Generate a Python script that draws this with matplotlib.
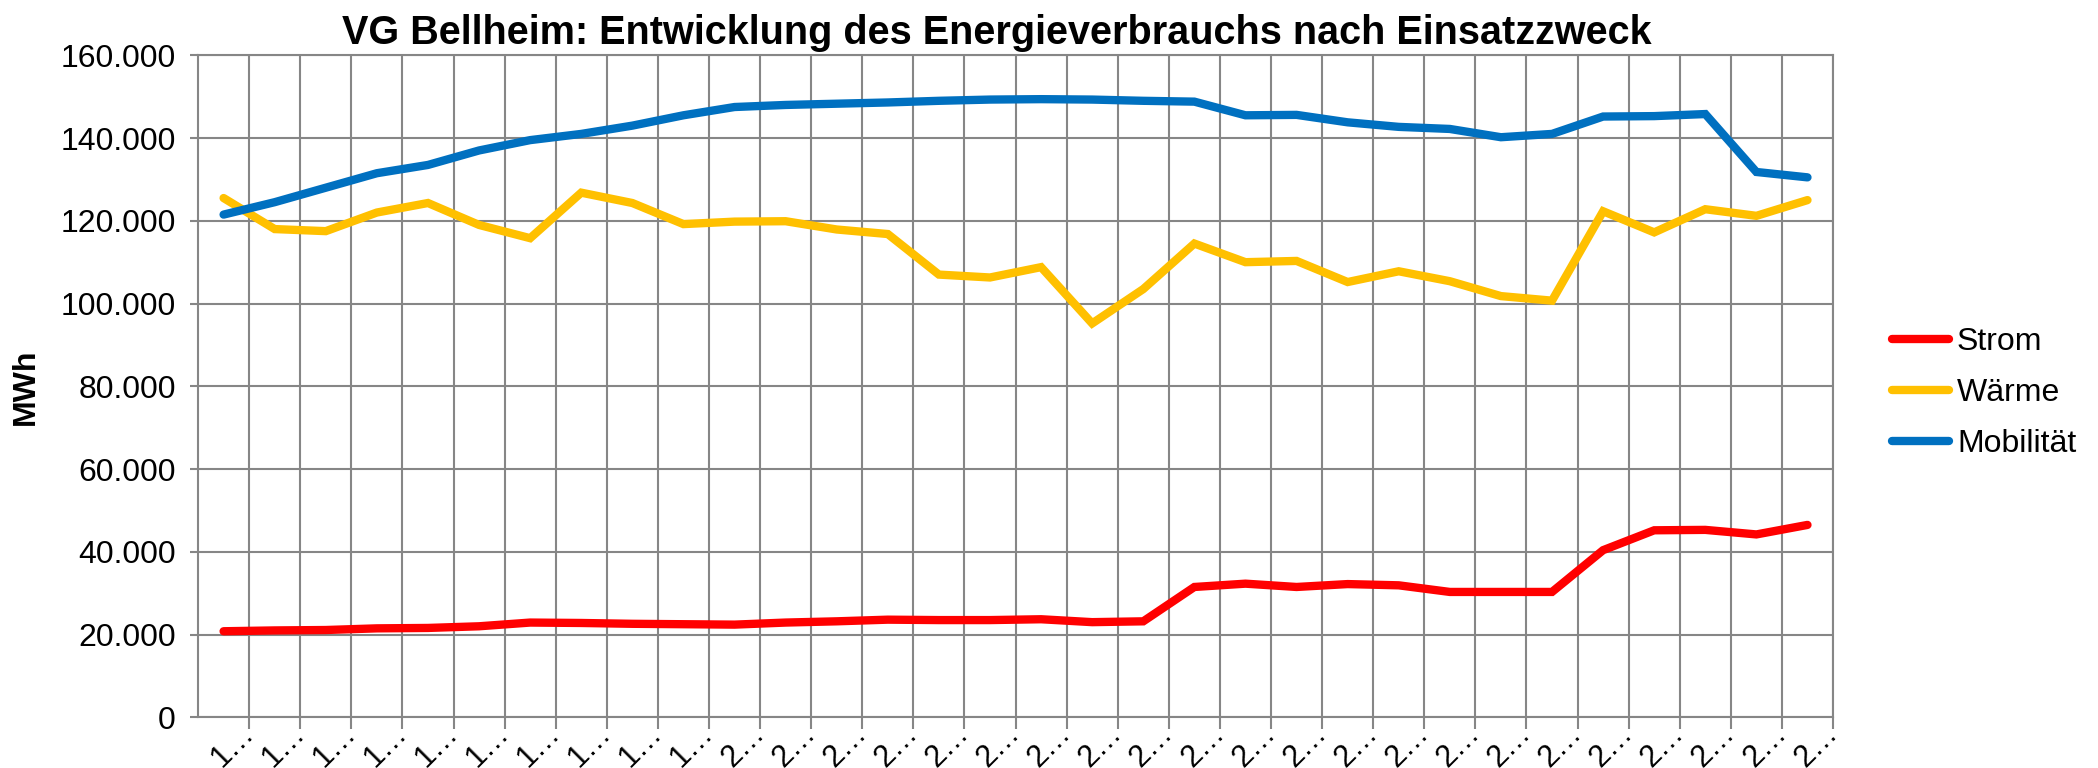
import matplotlib
matplotlib.use("Agg")
import matplotlib.pyplot as plt
from matplotlib.ticker import FuncFormatter, FixedLocator

# Jahre 1990 - 2021 (Achsenbeschriftungen im Original abgeschnitten)
years = list(range(1990, 2022))

strom = [20.8, 21.0, 21.1, 21.5, 21.6, 22.0, 22.9, 22.8, 22.6, 22.5,
         22.4, 22.9, 23.2, 23.6, 23.5, 23.5, 23.7, 23.0, 23.2, 31.5,
         32.3, 31.5, 32.2, 31.9, 30.3, 30.3, 30.3, 40.4, 45.2, 45.3,
         44.2, 46.5]
waerme = [125.5, 118.0, 117.5, 122.0, 124.3, 119.0, 115.8, 126.8, 124.3, 119.2,
          119.8, 119.9, 117.9, 116.8, 107.0, 106.3, 108.8, 95.2, 103.5, 114.5,
          110.0, 110.3, 105.2, 107.8, 105.4, 101.8, 100.7, 122.3, 117.2, 122.8,
          121.2, 125.0]
mobilitaet = [121.5, 124.5, 128.0, 131.5, 133.5, 137.0, 139.5, 141.0, 143.0, 145.5,
              147.5, 148.0, 148.3, 148.6, 149.0, 149.3, 149.4, 149.3, 149.0, 148.8,
              145.5, 145.6, 143.8, 142.7, 142.2, 140.2, 141.0, 145.2, 145.3, 145.8,
              131.8, 130.5]

series = [
    ("Strom", strom, "#FF0000"),
    ("Wärme", waerme, "#FFC000"),
    ("Mobilität", mobilitaet, "#0070C0"),
]

plt.rcParams['font.family'] = ['Liberation Sans', 'DejaVu Sans']

fig = plt.figure(figsize=(20.98, 7.68), dpi=100)
ax = fig.add_axes([0.0944, 0.066, 0.7793, 0.862])

x = list(range(len(years)))
for name, vals, col in series:
    ax.plot(x, [v * 1000 for v in vals], color=col, lw=6, label=name,
            solid_capstyle='round', solid_joinstyle='miter')

ax.set_xlim(-0.5, len(years) - 0.5)
ax.set_ylim(0, 160000)
ax.set_yticks(range(0, 160001, 20000))
ax.yaxis.set_major_formatter(FuncFormatter(
    lambda v, p: f"{int(v):,}".replace(",", ".")))

# Kategorie-Grenzen als Gitter, Beschriftung an der Grenze
ax.xaxis.set_major_locator(FixedLocator([i + 0.5 for i in x]))
ax.set_xticklabels([str(y)[0] + "…" for y in years], rotation=45,
                   ha='right', va='center', rotation_mode='anchor', fontsize=22)

grid_col = "#868686"
ax.grid(True, color=grid_col, lw=1.5)
ax.set_axisbelow(True)
for s in ax.spines.values():
    s.set_color(grid_col)
    s.set_linewidth(1.5)
ax.tick_params(axis='x', length=8.5, width=1.5, color=grid_col, pad=0)
ax.tick_params(axis='y', length=6, width=1.5, color=grid_col, labelsize=23,
               pad=10)

ax.set_ylabel("MWh", fontsize=23, fontweight='bold', labelpad=14)
ax.set_title("VG Bellheim: Entwicklung des Energieverbrauchs nach Einsatzzweck",
             fontsize=28.5, fontweight='bold', pad=8, x=0.4885)

ax.legend(loc='center left', bbox_to_anchor=(1.026, 0.49), frameon=False,
          fontsize=23, handlelength=1.8, handletextpad=0.25, labelspacing=0.65,
          borderpad=0)

fig.savefig("out.png", dpi=100)
